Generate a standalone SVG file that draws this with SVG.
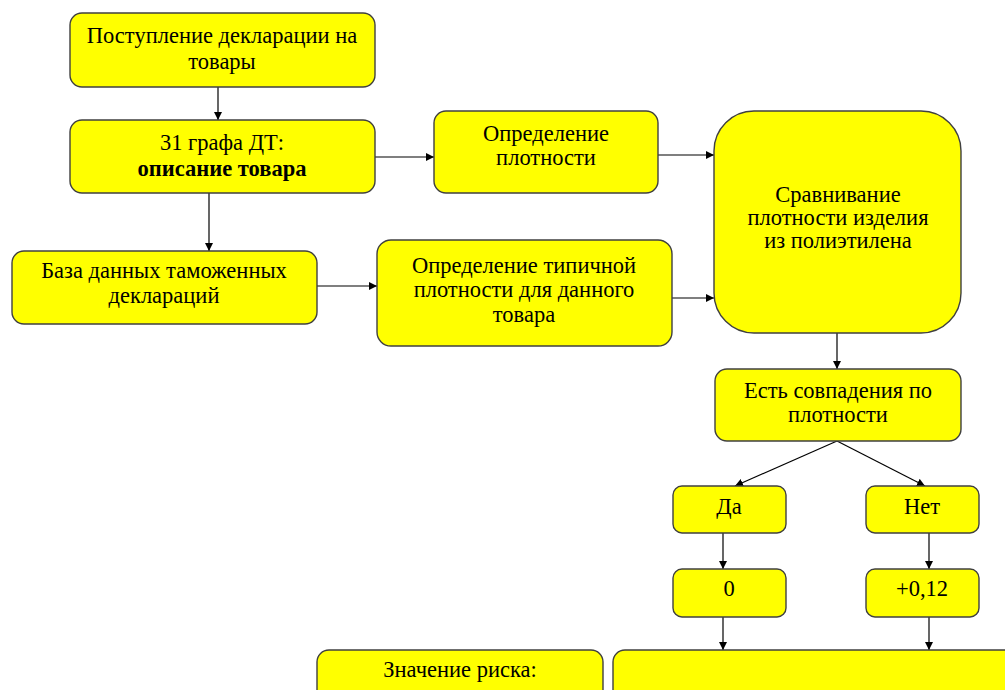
<svg xmlns="http://www.w3.org/2000/svg" width="1005" height="690" viewBox="0 0 1005 690">
<style>
.b{fill:#ffff00;stroke:#404040;stroke-width:1.4}
.t{font-family:"Liberation Serif","Times New Roman",serif;font-size:22.5px;fill:#000;text-anchor:middle}
.bd{font-weight:bold}
.c{stroke:#000;stroke-width:1.2;fill:none;marker-end:url(#ah)}
</style>
<defs>
<marker id="ah" viewBox="0 0 10 10" refX="10" refY="5" markerWidth="8" markerHeight="8" markerUnits="userSpaceOnUse" orient="auto">
<path d="M0,0 L10,5 L0,10 z" fill="#000"/>
</marker>
</defs>
<rect width="1005" height="690" fill="#fff"/>
<g id="connectors">
<line class="c" x1="218" y1="87" x2="218" y2="120"/>
<line class="c" x1="209" y1="193" x2="209" y2="251"/>
<line class="c" x1="375" y1="157" x2="434" y2="157"/>
<line class="c" x1="317" y1="286" x2="377" y2="286"/>
<line class="c" x1="658" y1="155" x2="714" y2="155"/>
<line class="c" x1="672" y1="298" x2="714" y2="298"/>
<line class="c" x1="837" y1="333" x2="837" y2="369"/>
<line class="c" x1="837" y1="441" x2="735" y2="486"/>
<line class="c" x1="837" y1="441" x2="925" y2="486"/>
<line class="c" x1="723" y1="533" x2="723" y2="569"/>
<line class="c" x1="929" y1="533" x2="929" y2="569"/>
<line class="c" x1="723" y1="617" x2="723" y2="650"/>
<line class="c" x1="929" y1="617" x2="929" y2="650"/>
</g>
<g id="n1"><rect class="b" x="70" y="13" width="305" height="74" rx="12"/>
<text class="t" x="222" y="43">Поступление декларации на</text><text class="t" x="222" y="69">товары</text></g>
<g id="n2"><rect class="b" x="70" y="120" width="305" height="73" rx="12"/>
<text class="t" x="222" y="150">31 графа ДТ:</text><text class="t bd" x="222" y="176">описание товара</text></g>
<g id="n3"><rect class="b" x="12" y="251" width="305" height="73" rx="12"/>
<text class="t" x="164" y="278">База данных таможенных</text><text class="t" x="164" y="303">деклараций</text></g>
<g id="n4"><rect class="b" x="434" y="111" width="224" height="82" rx="12"/>
<text class="t" x="546" y="141">Определение</text><text class="t" x="546" y="165">плотности</text></g>
<g id="n5"><rect class="b" x="377" y="240" width="295" height="106" rx="14"/>
<text class="t" x="524" y="273">Определение типичной</text><text class="t" x="524" y="297">плотности для данного</text><text class="t" x="524" y="322">товара</text></g>
<g id="n6"><rect class="b" x="714" y="111" width="247" height="222" rx="40"/>
<text class="t" x="838" y="202">Сравнивание</text><text class="t" x="838" y="225">плотности изделия</text><text class="t" x="838" y="248">из полиэтилена</text></g>
<g id="n7"><rect class="b" x="715" y="369" width="246" height="72" rx="12"/>
<text class="t" x="838" y="398">Есть совпадения по</text><text class="t" x="838" y="422">плотности</text></g>
<g id="n8"><rect class="b" x="673" y="486" width="113" height="47" rx="9"/>
<text class="t" x="729" y="514">Да</text></g>
<g id="n9"><rect class="b" x="866" y="486" width="113" height="47" rx="9"/>
<text class="t" x="922" y="514">Нет</text></g>
<g id="n10"><rect class="b" x="673" y="569" width="113" height="48" rx="9"/>
<text class="t" x="729" y="596">0</text></g>
<g id="n11"><rect class="b" x="866" y="569" width="113" height="48" rx="9"/>
<text class="t" x="922" y="596">+0,12</text></g>
<g id="n12"><rect class="b" x="317" y="650" width="286" height="60" rx="12"/>
<text class="t" x="460" y="677">Значение риска:</text></g>
<g id="n13"><rect class="b" x="613" y="650" width="420" height="60" rx="12"/></g>
</svg>
